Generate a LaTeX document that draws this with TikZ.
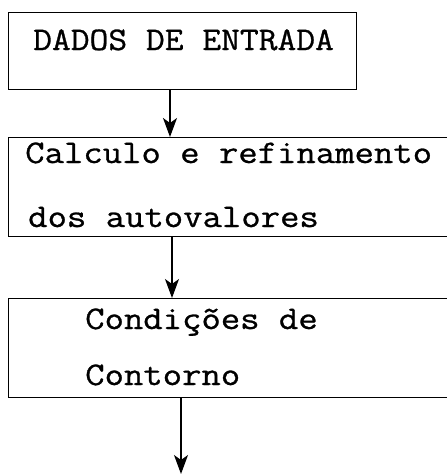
\documentclass[tikz,border=0pt]{standalone}
\usepackage{fontspec}
\setmonofont{Latin Modern Mono}[BoldFont={Latin Modern Mono},BoldFeatures={FakeBold=0.8}]
\usetikzlibrary{arrows.meta}
\begin{document}
\begin{tikzpicture}[x=1pt,y=-1pt,
  box/.style={draw,line width=1.3pt,rectangle,inner sep=0pt,anchor=north west},
  txt/.style={anchor=base west,inner sep=0pt,xscale=1.14,transform shape,font=\ttfamily\bfseries\fontsize{33}{38}\selectfont},
  arr/.style={line width=1.3pt,-{Stealth[length=19pt,width=14pt,inset=5pt]}}]
\useasboundingbox (0,0) rectangle (447,475);
\clip (0,0) rectangle (447,475);
\node[box,minimum width=348pt,minimum height=77pt] (b1) at (8,12) {};
\node[box,minimum width=460pt,minimum height=99pt] (b2) at (8,137) {};
\node[box,minimum width=460pt,minimum height=99pt] (b3) at (8,298) {};
\node[txt,xscale=0.97] (t1) at (33,50) {DADOS DE ENTRADA};
\node[txt] (t2) at (25,163) {Calculo e refinamento};
\node[txt] (t3) at (28,227) {dos autovalores};
\node[txt] (t4) at (85,329) {Condições de};
\node[txt] (t5) at (85,385) {Contorno};
\coordinate (end) at (181,474);
\draw[arr] (b1.south -| 170,0) -- (b2.north -| 170,0);
\draw[arr] (b2.south -| 172,0) -- (b3.north -| 172,0);
\draw[arr] (b3.south -| end) -- (end);
\end{tikzpicture}
\end{document}
